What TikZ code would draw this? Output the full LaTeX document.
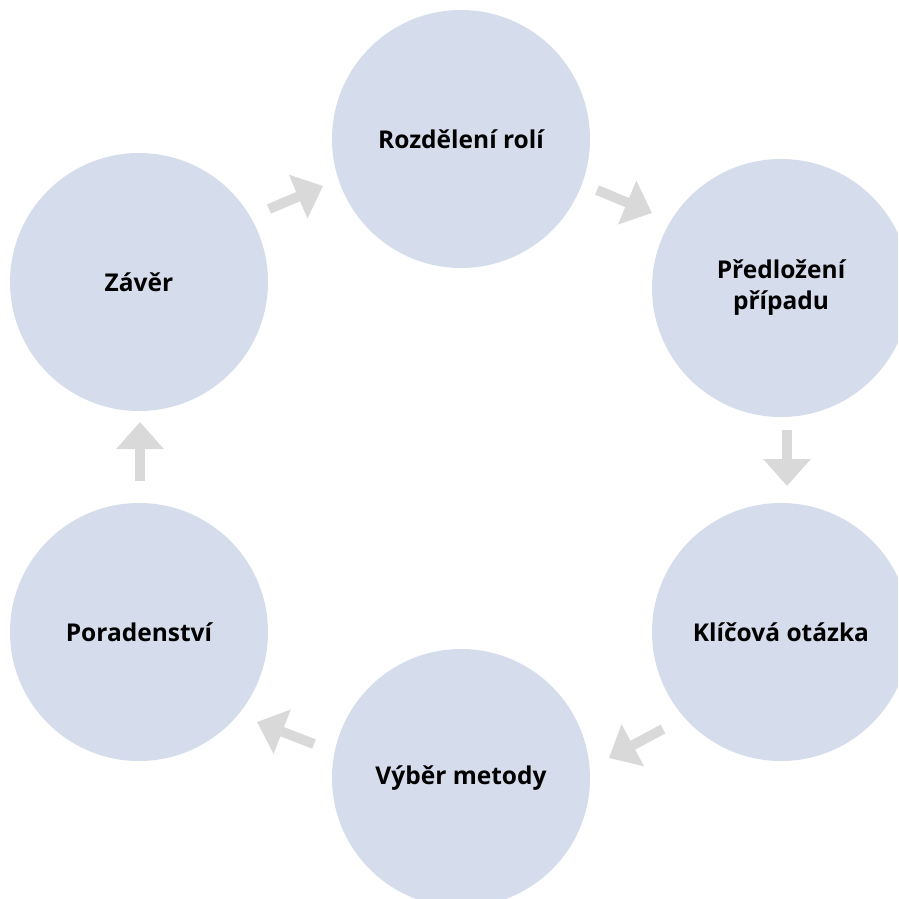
\documentclass[tikz,border=0pt]{standalone}
\usepackage{fontspec}
\setmainfont{Open Sans}
\usetikzlibrary{arrows.meta}
\definecolor{circ}{HTML}{D5DCEB}
\definecolor{arr}{HTML}{D9D9D9}
\begin{document}
\begin{tikzpicture}[x=1pt,y=-1pt,
  stage/.style={circle,fill=circ,minimum size=258pt,inner sep=0pt,align=center,
    font=\fontsize{24.5}{31}\selectfont\bfseries,text=black},
  flow/.style={draw=arr,line width=10pt,-{Triangle[width=46pt,length=27pt]}}]
\useasboundingbox (0,0) rectangle (898,899);
\clip (0,0) rectangle (898,899);
\node[stage] (roz) at (461,139) {Rozdělení rolí};
\node[stage] (pre) at (781,288) {Předložení\\případu};
\node[stage] (kli) at (781,632) {Klíčová otázka};
\node[stage] (vyb) at (461,778) {Výběr metody};
\node[stage] (por) at (139,632) {Poradenství};
\node[stage] (zav) at (139,282) {Závěr};
\coordinate (a1s) at (269,209); \coordinate (a1e) at (323,186);
\coordinate (a2s) at (597,190); \coordinate (a2e) at (652,213);
\coordinate (a3s) at (787,430); \coordinate (a3e) at (787,486);
\coordinate (a4s) at (663,729); \coordinate (a4e) at (609,758);
\coordinate (a5s) at (314,744); \coordinate (a5e) at (257,722);
\coordinate (a6s) at (140,481); \coordinate (a6e) at (140,422);
\draw[flow] (a1s) -- (a1e);
\draw[flow] (a2s) -- (a2e);
\draw[flow] (a3s) -- (a3e);
\draw[flow] (a4s) -- (a4e);
\draw[flow] (a5s) -- (a5e);
\draw[flow] (a6s) -- (a6e);
\end{tikzpicture}
\end{document}
